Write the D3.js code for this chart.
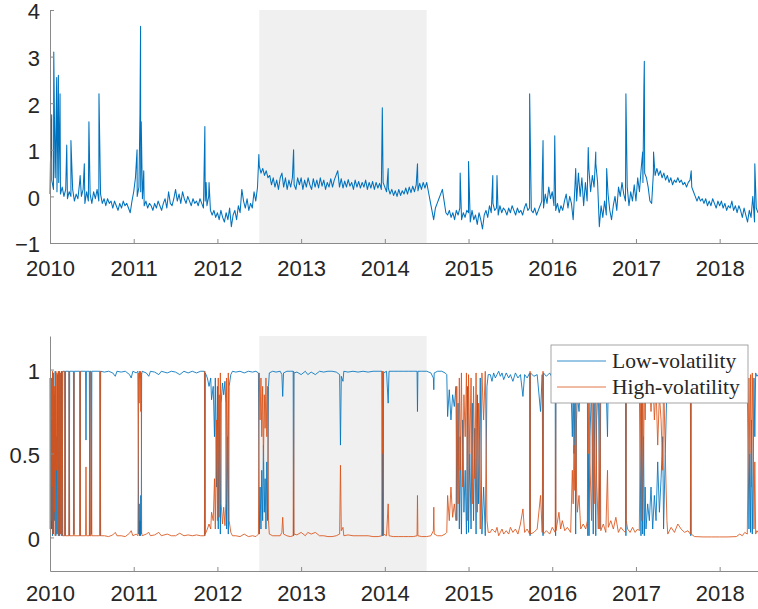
<!DOCTYPE html>
<html>
<head>
<meta charset="utf-8">
<script src="https://cdn.jsdelivr.net/npm/d3@7"></script>
<style>
  body { margin: 0; background: #fff; }
  svg { display: block; }
</style>
</head>
<body>
<div id="chart"></div>
<script>
const width = 758, height = 609;

// index series, one value every 1/48 year from 2010
const startYear = 2010, step = 1 / 48;
const indexValues = [
    // 2010
    0.05, 0.35, 0.15, 0.4, 0.1, 0.3,
    0.05, 0.2, 0.0, 0.15, -0.05, 0.1,
    0.0, 0.15, -0.1, 0.05, -0.05, 0.3,
    0.0, 0.15, -0.15, 0.1, -0.1, 0.05,
    -0.15, 0.1, -0.05, 0.15, -0.1, 0.05,
    -0.15, -0.05, -0.2, -0.05, -0.15, -0.1,
    -0.25, -0.1, -0.2, -0.3, -0.15, -0.25,
    -0.1, -0.2, -0.15, -0.25, -0.35, -0.1,
    // 2011
    0.1, 0.4, 0.0, 0.2, 0.1, -0.05,
    -0.2, -0.1, -0.25, -0.15, -0.2, -0.3,
    -0.15, -0.25, -0.1, -0.2, -0.3, -0.15,
    -0.05, -0.25, 0.1, -0.15, -0.2, -0.05,
    0.15, -0.1, 0.05, -0.15, 0.1, -0.05,
    -0.15, 0.0, -0.1, -0.2, -0.05, -0.15,
    -0.1, -0.2, -0.05, -0.15, -0.25, -0.1,
    -0.2, 0.0, -0.3, -0.4, -0.3, -0.45,
    // 2012
    -0.35, -0.5, -0.3, -0.45, -0.55, -0.35,
    -0.5, -0.25, -0.65, -0.4, -0.3, -0.5,
    -0.2, -0.35, 0.15, -0.1, -0.25, -0.05,
    -0.3, -0.15, -0.25, 0.1, -0.1, 0.2,
    0.65, 0.5, 0.6, 0.45, 0.55, 0.4,
    0.45, 0.25, 0.4, 0.2, 0.35, 0.15,
    0.4, 0.5, 0.2, 0.4, 0.15, 0.35,
    0.2, 0.4, 0.25, 0.15, 0.4, 0.25,
    // 2013
    0.4, 0.15, 0.35, 0.2, 0.4, 0.25,
    0.15, 0.38, 0.2, 0.35, 0.18, 0.4,
    0.22, 0.35, 0.15, 0.3, 0.2, 0.38,
    0.2, 0.35, 0.45, 0.55, 0.2, 0.38,
    0.18, 0.33, 0.2, 0.36, 0.22, 0.3,
    0.15, 0.35, 0.2, 0.32, 0.18, 0.3,
    0.2, 0.35, 0.15, 0.3, 0.18, 0.32,
    0.15, 0.3, 0.18, 0.28, 0.15, 0.3,
    // 2014
    0.2, 0.1, 0.18, 0.05, 0.15, 0.02,
    0.12, 0.0, 0.15, 0.02, 0.12, 0.05,
    0.18, 0.05, 0.2, 0.08, 0.22, 0.1,
    0.25, 0.12, 0.28, 0.15, 0.3, 0.18,
    0.3, 0.1, -0.1, -0.3, -0.5, -0.25,
    -0.15, -0.05, 0.05, 0.15, -0.1, -0.35,
    -0.4, -0.3, -0.45, -0.35, -0.5, -0.3,
    -0.4, -0.25, -0.5, -0.35, -0.45, -0.3,
    // 2015
    -0.35, -0.55, -0.3, -0.5, -0.4, -0.6,
    -0.35, -0.5, -0.7, -0.4, -0.3, -0.45,
    -0.2, -0.35, -0.15, -0.3, -0.25, -0.4,
    -0.2, -0.35, -0.25, -0.3, -0.4, -0.25,
    -0.35, -0.2, -0.3, -0.4, -0.25, -0.35,
    -0.3, -0.4, -0.25, -0.15, -0.3, -0.25,
    -0.3, -0.35, -0.25, -0.4, -0.3, -0.2,
    -0.1, -0.25, 0.05, -0.15, 0.2, -0.05,
    // 2016
    0.1, -0.2, -0.3, -0.15, -0.35, -0.2,
    -0.3, -0.1, 0.05, -0.25, 0.0, -0.15,
    -0.5, 0.2, -0.1, 0.5, 0.0, 0.4,
    -0.2, 0.3, -0.1, 0.6, 0.1, 0.45,
    0.2, 0.7, 0.3, -0.65, -0.2, -0.45,
    -0.1, -0.4, 0.05, -0.3, -0.5, -0.2,
    0.0, -0.3, 0.2, 0.0, 0.3, 0.05,
    -0.1, 0.2, -0.2, 0.1, -0.1, 0.25,
    // 2017
    -0.1, 0.4, 0.1, 0.6, 0.3, 0.5,
    0.4, 0.2, -0.1, -0.15, 0.5, 0.45,
    0.6, 0.45, 0.55, 0.4, 0.5, 0.35,
    0.45, 0.3, 0.4, 0.25, 0.35, 0.3,
    0.4, 0.3, 0.35, 0.25, 0.3, 0.2,
    0.3, 0.35, 0.2, 0.1, 0.0, -0.1,
    0.0, -0.1, -0.05, -0.15, -0.05, -0.2,
    -0.1, -0.2, -0.05, -0.15, -0.25, -0.1,
    // 2018
    -0.2, -0.1, -0.25, -0.15, -0.3, -0.2,
    -0.25, -0.1, -0.3, -0.2, -0.35, -0.2,
    -0.3, -0.45, -0.25, -0.4, -0.55, -0.3,
    -0.45, 0.0, -0.55, -0.25, -0.35
];

// single-day jumps of the index [year, value]
const indexSpikes = [
    [2010.005, 0.7], [2010.02, 1.75], [2010.045, 3.1], [2010.06, 0.55], [2010.08, 2.55],
    [2010.10, 2.6], [2010.12, 2.2], [2010.20, 1.1], [2010.25, 1.2], [2010.36, 0.45],
    [2010.41, 0.7], [2010.465, 1.6], [2010.585, 2.2],
    [2011.04, 1.0], [2011.075, 1.8], [2011.082, 3.65], [2011.09, 1.6], [2011.12, 0.55],
    [2011.85, 1.5], [2011.865, 0.3], [2011.90, 0.3],
    [2012.495, 0.9], [2012.91, 1.0], [2013.97, 1.9], [2014.04, 0.6], [2014.39, 0.7],
    [2014.9, 0.5], [2015.0, 0.75], [2015.29, 0.45], [2015.34, 0.45], [2015.73, 2.2],
    [2015.89, 1.2], [2016.03, 1.3], [2016.28, 0.6], [2016.43, 1.05], [2016.52, 0.95],
    [2016.65, 0.6], [2016.88, 2.2], [2017.08, 0.95], [2017.095, 2.35], [2017.10, 2.9],
    [2017.21, 0.95], [2017.66, 0.55], [2018.42, 0.7]
];

// regime probabilities [year, low-volatility, high-volatility]
const probRows = [
    [2010.000, 0.95, 0.05], [2010.006, 0.02, 0.98], [2010.012, 0.9, 0.1], [2010.018, 0.05, 0.95],
    [2010.024, 0.7, 0.3], [2010.030, 0.01, 0.99], [2010.036, 0.98, 0.02], [2010.042, 0.02, 0.98],
    [2010.050, 0.85, 0.15], [2010.056, 0.1, 0.9], [2010.062, 0.99, 0.01], [2010.070, 0.01, 0.99],
    [2010.078, 0.6, 0.4], [2010.084, 0.02, 0.98], [2010.092, 0.97, 0.03], [2010.100, 0.01, 0.99],
    [2010.108, 0.99, 0.01], [2010.115, 0.01, 0.99], [2010.122, 0.98, 0.02], [2010.130, 0.02, 0.98],
    [2010.138, 0.99, 0.01], [2010.146, 0.01, 0.99], [2010.153, 0.99, 0.01],
    [2010.175, 0.99, 0.01], [2010.180, 0.01, 0.99], [2010.185, 0.99, 0.01],
    [2010.225, 0.99, 0.01], [2010.230, 0.01, 0.99], [2010.235, 0.99, 0.01],
    [2010.280, 0.99, 0.01], [2010.285, 0.02, 0.98], [2010.290, 0.99, 0.01],
    [2010.355, 0.99, 0.01], [2010.360, 0.01, 0.99], [2010.365, 0.99, 0.01],
    [2010.425, 0.99, 0.01], [2010.430, 0.58, 0.42], [2010.435, 0.99, 0.01],
    [2010.470, 0.99, 0.01], [2010.475, 0.01, 0.99], [2010.480, 0.99, 0.01],
    [2010.490, 0.99, 0.01], [2010.495, 0.02, 0.98], [2010.500, 0.99, 0.01],
    [2010.595, 0.99, 0.01], [2010.600, 0.01, 0.99], [2010.605, 0.99, 0.01],
    [2010.65, 0.985, 0.01], [2010.70, 0.99, 0.005], [2010.75, 0.98, 0.015], [2010.78, 0.96, 0.03],
    [2010.80, 0.99, 0.01], [2010.85, 0.985, 0.01], [2010.90, 0.99, 0.005], [2010.95, 0.97, 0.025],
    [2010.97, 0.95, 0.04], [2010.99, 0.99, 0.01], [2011.03, 0.98, 0.02], [2011.05, 0.99, 0.01],
    [2011.06, 0.02, 0.98], [2011.065, 0.2, 0.8], [2011.07, 0.01, 0.99], [2011.075, 0.1, 0.95],
    [2011.08, 0.01, 0.99], [2011.085, 0.25, 0.75], [2011.09, 0.02, 0.98], [2011.095, 0.97, 0.03],
    [2011.10, 0.99, 0.01], [2011.15, 0.98, 0.02], [2011.18, 0.96, 0.03], [2011.20, 0.99, 0.01],
    [2011.25, 0.985, 0.015], [2011.30, 0.97, 0.03], [2011.33, 0.99, 0.01], [2011.40, 0.98, 0.02],
    [2011.45, 0.99, 0.01], [2011.50, 0.985, 0.01], [2011.55, 0.97, 0.025], [2011.60, 0.99, 0.01],
    [2011.65, 0.98, 0.015], [2011.70, 0.99, 0.01], [2011.75, 0.98, 0.015], [2011.80, 0.99, 0.01],
    [2011.845, 0.99, 0.01], [2011.85, 0.01, 0.99], [2011.855, 0.98, 0.02],
    [2011.88, 0.95, 0.05], [2011.90, 0.9, 0.08], [2011.92, 0.95, 0.05], [2011.93, 0.82, 0.15],
    [2011.95, 0.9, 0.1], [2011.965, 0.6, 0.35], [2011.975, 0.95, 0.05], [2011.99, 0.3, 0.7],
    [2012.00, 0.9, 0.1], [2012.01, 0.05, 0.95], [2012.02, 0.85, 0.12], [2012.035, 0.02, 0.98],
    [2012.045, 0.8, 0.2], [2012.06, 0.92, 0.08], [2012.075, 0.85, 0.18], [2012.09, 0.93, 0.07],
    [2012.10, 0.8, 0.2], [2012.11, 0.05, 0.95], [2012.12, 0.6, 0.4], [2012.13, 0.02, 0.98],
    [2012.14, 0.9, 0.1], [2012.16, 0.97, 0.03], [2012.18, 0.99, 0.01],
    [2012.22, 0.985, 0.01], [2012.27, 0.99, 0.005], [2012.32, 0.98, 0.02], [2012.37, 0.99, 0.005],
    [2012.42, 0.985, 0.01], [2012.46, 0.99, 0.005], [2012.49, 0.98, 0.02],
    [2012.50, 0.02, 0.98], [2012.51, 0.3, 0.7], [2012.52, 0.05, 0.95], [2012.53, 0.4, 0.6],
    [2012.54, 0.1, 0.9], [2012.55, 0.55, 0.45], [2012.56, 0.15, 0.85], [2012.57, 0.35, 0.65],
    [2012.58, 0.05, 0.95], [2012.59, 0.45, 0.6], [2012.60, 0.1, 0.9], [2012.61, 0.9, 0.1],
    [2012.62, 0.98, 0.02], [2012.66, 0.99, 0.01], [2012.70, 0.985, 0.01], [2012.75, 0.99, 0.01],
    [2012.77, 0.97, 0.03], [2012.78, 0.84, 0.12], [2012.79, 0.98, 0.02], [2012.83, 0.99, 0.01],
    [2012.87, 0.99, 0.005], [2012.905, 0.99, 0.01], [2012.91, 0.01, 0.99], [2012.915, 0.98, 0.02],
    [2012.95, 0.985, 0.015], [2013.00, 0.97, 0.03], [2013.05, 0.99, 0.01], [2013.08, 0.97, 0.03],
    [2013.12, 0.985, 0.02], [2013.17, 0.97, 0.03], [2013.22, 0.99, 0.01], [2013.27, 0.985, 0.01],
    [2013.32, 0.99, 0.005], [2013.37, 0.99, 0.005], [2013.42, 0.985, 0.01], [2013.46, 0.97, 0.02],
    [2013.47, 0.55, 0.43], [2013.48, 0.96, 0.04], [2013.50, 0.93, 0.06], [2013.51, 0.99, 0.01],
    [2013.56, 0.985, 0.015], [2013.62, 0.99, 0.01], [2013.68, 0.985, 0.01], [2013.74, 0.99, 0.01],
    [2013.80, 0.985, 0.01], [2013.86, 0.99, 0.005], [2013.92, 0.99, 0.005], [2013.965, 0.99, 0.01],
    [2013.97, 0.01, 0.99], [2013.975, 0.5, 0.5], [2013.98, 0.01, 0.99], [2013.985, 0.98, 0.02],
    [2014.02, 0.99, 0.01], [2014.04, 0.8, 0.2], [2014.05, 0.99, 0.01], [2014.10, 0.99, 0.005],
    [2014.16, 0.99, 0.005], [2014.22, 0.99, 0.005], [2014.28, 0.99, 0.005], [2014.34, 0.99, 0.005],
    [2014.385, 0.99, 0.01], [2014.39, 0.75, 0.25], [2014.395, 0.99, 0.01], [2014.44, 0.99, 0.005],
    [2014.50, 0.99, 0.005], [2014.55, 0.98, 0.01], [2014.58, 0.95, 0.04], [2014.585, 0.88, 0.18],
    [2014.59, 0.98, 0.02], [2014.63, 0.99, 0.01], [2014.68, 0.99, 0.01], [2014.72, 0.98, 0.02],
    [2014.74, 0.97, 0.03], [2014.75, 0.72, 0.25], [2014.77, 0.88, 0.1], [2014.79, 0.7, 0.3],
    [2014.81, 0.85, 0.12], [2014.83, 0.78, 0.2], [2014.85, 0.9, 0.1], [2014.86, 0.1, 0.9],
    [2014.875, 0.8, 0.2], [2014.89, 0.05, 0.95], [2014.90, 0.6, 0.4], [2014.915, 0.02, 0.98],
    [2014.93, 0.7, 0.3], [2014.945, 0.15, 0.85], [2014.96, 0.4, 0.6], [2014.975, 0.02, 0.98],
    [2014.99, 0.9, 0.1], [2015.00, 0.03, 0.97], [2015.015, 0.5, 0.5], [2015.03, 0.05, 0.95],
    [2015.045, 0.8, 0.2], [2015.06, 0.1, 0.9], [2015.075, 0.65, 0.35], [2015.09, 0.02, 0.98],
    [2015.105, 0.85, 0.15], [2015.12, 0.2, 0.8], [2015.14, 0.95, 0.05], [2015.16, 0.02, 0.98],
    [2015.18, 0.3, 0.7], [2015.20, 0.01, 0.99], [2015.22, 0.9, 0.1], [2015.235, 0.97, 0.03],
    [2015.26, 0.97, 0.03], [2015.28, 0.93, 0.05], [2015.30, 0.98, 0.04], [2015.32, 0.95, 0.03],
    [2015.34, 0.97, 0.06], [2015.36, 0.99, 0.01], [2015.38, 0.96, 0.03], [2015.40, 0.98, 0.05],
    [2015.42, 0.94, 0.02], [2015.45, 0.98, 0.04], [2015.48, 0.95, 0.02], [2015.50, 0.97, 0.06],
    [2015.53, 0.93, 0.03], [2015.56, 0.98, 0.05], [2015.59, 0.95, 0.02], [2015.62, 0.97, 0.08],
    [2015.65, 0.84, 0.17], [2015.67, 0.97, 0.03], [2015.70, 0.95, 0.05], [2015.73, 0.98, 0.02],
    [2015.735, 0.01, 0.99], [2015.74, 0.98, 0.02], [2015.78, 0.96, 0.03], [2015.82, 0.97, 0.05],
    [2015.86, 0.75, 0.25], [2015.88, 0.97, 0.03], [2015.89, 0.01, 0.99], [2015.895, 0.98, 0.02],
    [2015.93, 0.96, 0.04], [2015.97, 0.98, 0.02], [2016.00, 0.95, 0.06], [2016.035, 0.97, 0.03],
    [2016.04, 0.01, 0.99], [2016.045, 0.96, 0.04], [2016.08, 0.85, 0.15], [2016.10, 0.95, 0.05],
    [2016.12, 0.88, 0.1], [2016.15, 0.97, 0.04], [2016.18, 0.96, 0.06], [2016.22, 0.97, 0.03],
    [2016.24, 0.6, 0.4], [2016.25, 0.9, 0.2], [2016.26, 0.5, 0.55], [2016.27, 0.8, 0.28],
    [2016.28, 0.02, 0.98], [2016.29, 0.7, 0.3], [2016.30, 0.85, 0.15], [2016.32, 0.75, 0.25],
    [2016.34, 0.95, 0.05], [2016.37, 0.97, 0.08], [2016.40, 0.95, 0.05], [2016.42, 0.9, 0.1],
    [2016.425, 0.01, 0.99], [2016.43, 0.5, 0.5], [2016.44, 0.01, 0.99], [2016.45, 0.6, 0.45],
    [2016.47, 0.9, 0.1], [2016.49, 0.02, 0.98], [2016.50, 0.8, 0.2], [2016.52, 0.01, 0.99],
    [2016.53, 0.7, 0.35], [2016.55, 0.95, 0.05], [2016.57, 0.05, 0.95], [2016.58, 0.97, 0.04],
    [2016.61, 0.95, 0.08], [2016.64, 0.97, 0.03], [2016.66, 0.6, 0.4], [2016.67, 0.96, 0.06],
    [2016.70, 0.92, 0.1], [2016.73, 0.97, 0.05], [2016.76, 0.95, 0.12], [2016.79, 0.98, 0.03],
    [2016.82, 0.96, 0.06], [2016.85, 0.97, 0.04], [2016.875, 0.97, 0.03], [2016.88, 0.01, 0.99],
    [2016.885, 0.9, 0.1], [2016.90, 0.96, 0.05], [2016.93, 0.97, 0.03], [2016.96, 0.95, 0.06],
    [2016.99, 0.97, 0.03], [2017.02, 0.95, 0.05], [2017.04, 0.97, 0.04], [2017.06, 0.01, 0.99],
    [2017.07, 0.9, 0.1], [2017.08, 0.02, 0.98], [2017.09, 0.6, 0.4], [2017.10, 0.01, 0.99],
    [2017.11, 0.3, 0.7], [2017.12, 0.05, 0.95], [2017.14, 0.2, 0.85], [2017.16, 0.1, 0.95],
    [2017.18, 0.3, 0.75], [2017.20, 0.05, 0.98], [2017.22, 0.25, 0.7], [2017.24, 0.1, 0.9],
    [2017.26, 0.45, 0.55], [2017.28, 0.15, 0.85], [2017.30, 0.35, 0.7], [2017.32, 0.6, 0.4],
    [2017.33, 0.05, 0.98], [2017.35, 0.5, 0.5], [2017.37, 0.9, 0.1], [2017.38, 0.98, 0.02],
    [2017.42, 0.97, 0.06], [2017.46, 0.98, 0.03], [2017.50, 0.96, 0.08], [2017.54, 0.97, 0.05],
    [2017.58, 0.98, 0.03], [2017.62, 0.97, 0.04], [2017.65, 0.98, 0.02], [2017.655, 0.01, 0.99],
    [2017.66, 0.98, 0.02], [2017.70, 0.995, 0.005], [2017.80, 0.995, 0.003], [2017.90, 0.995, 0.003],
    [2018.00, 0.995, 0.003], [2018.10, 0.995, 0.003], [2018.20, 0.99, 0.005], [2018.24, 0.98, 0.02],
    [2018.27, 0.99, 0.01], [2018.30, 0.97, 0.03], [2018.33, 0.98, 0.02], [2018.35, 0.05, 0.95],
    [2018.36, 0.5, 0.5], [2018.37, 0.03, 0.97], [2018.38, 0.7, 0.3], [2018.39, 0.02, 0.98],
    [2018.40, 0.4, 0.6], [2018.41, 0.95, 0.05], [2018.42, 0.6, 0.45], [2018.43, 0.98, 0.02],
    [2018.445, 0.96, 0.04], [2018.458, 0.97, 0.03]
];

const yearTicks = [2010, 2011, 2012, 2013, 2014, 2015, 2016, 2017, 2018];
const topTicks = [-1, 0, 1, 2, 3, 4];
const bottomTicks = [0, 0.5, 1];
const shadeRange = [2012.5, 2014.5];
const seriesNames = ["Low-volatility", "High-volatility"];
const seriesColors = ["#0072BD", "#D95319"];

const svg = d3.select("#chart")
    .append("svg")
    .attr("width", width)
    .attr("height", height);

const xScale = d3.scaleLinear()
    .domain([2010, 2018.458])
    .range([50, 758]);

const yTop = d3.scaleLinear().domain([-1, 4]).range([243, 10]);
const yBottom = d3.scaleLinear().domain([-0.2, 1.2]).range([571, 336]);

const indexPoints = indexValues.map((v, i) => ({ t: startYear + i * step, v }))
    .concat(indexSpikes.map(([t, v]) => ({ t, v })))
    .sort((a, b) => a.t - b.t);

function drawPanel(yScale) {
    const [y0, y1] = yScale.range();
    const g = svg.append("g");

    // shaded period
    g.append("rect")
        .attr("x", xScale(shadeRange[0]))
        .attr("y", y1)
        .attr("width", xScale(shadeRange[1]) - xScale(shadeRange[0]))
        .attr("height", y0 - y1)
        .attr("fill", "#f0f0f0");

    return g;
}

function drawAxes(g, yScale, yTicks, yFormat, xPad) {
    const [y0] = yScale.range();

    const xAxis = g.append("g")
        .attr("transform", `translate(0,${y0})`)
        .call(d3.axisBottom(xScale)
            .tickValues(yearTicks)
            .tickFormat(d3.format("d"))
            .tickSizeInner(-4)
            .tickSizeOuter(0)
            .tickPadding(xPad));

    const yAxis = g.append("g")
        .attr("transform", `translate(${xScale.range()[0]},0)`)
        .call(d3.axisLeft(yScale)
            .tickValues(yTicks)
            .tickFormat(yFormat)
            .tickSizeInner(-4)
            .tickSizeOuter(0)
            .tickPadding(10));
    yAxis.selectAll(".tick text").attr("dy", "0.4em");

    [xAxis, yAxis].forEach(a => {
        a.select(".domain").attr("stroke", "#8a8a8a");
        a.selectAll(".tick line").attr("stroke", "#8a8a8a");
        a.selectAll(".tick text")
            .attr("fill", "#262626")
            .style("font-family", "'Liberation Sans', Arial, sans-serif")
            .style("font-size", "22px");
    });
}

// top panel: index
const topPanel = drawPanel(yTop);
topPanel.append("path")
    .datum(indexPoints)
    .attr("fill", "none")
    .attr("stroke", seriesColors[0])
    .attr("stroke-width", 1.05)
    .attr("stroke-linejoin", "round")
    .attr("d", d3.line().x(d => xScale(d.t)).y(d => yTop(d.v)));
drawAxes(topPanel, yTop, topTicks, d3.format("d"), 17);

// bottom panel: regime probabilities
const bottomPanel = drawPanel(yBottom);
seriesNames.forEach((name, k) => {
    bottomPanel.append("path")
        .datum(probRows)
        .attr("fill", "none")
        .attr("stroke", seriesColors[k])
        .attr("stroke-width", 0.85)
        .attr("stroke-linejoin", "round")
        .attr("d", d3.line().x(d => xScale(d[0])).y(d => yBottom(d[k + 1])));
});
drawAxes(bottomPanel, yBottom, bottomTicks, d => d === 0.5 ? "0.5" : d3.format("d")(d), 14);

// legend
const legend = svg.append("g").attr("transform", "translate(551,345)");
legend.append("rect")
    .attr("width", 197)
    .attr("height", 58)
    .attr("fill", "#fff")
    .attr("stroke", "#8f8f8f")
    .attr("stroke-width", 0.8);

seriesNames.forEach((name, k) => {
    const row = legend.append("g").attr("transform", `translate(0,${16 + k * 26})`);
    row.append("line")
        .attr("x1", 6).attr("x2", 55)
        .attr("stroke", seriesColors[k])
        .attr("stroke-width", 0.8);
    row.append("text")
        .attr("x", 61)
        .attr("dy", "0.33em")
        .attr("fill", "#262626")
        .style("font-family", "'Liberation Serif', 'Times New Roman', serif")
        .style("font-size", "21.5px")
        .text(name);
});
</script>
</body>
</html>
